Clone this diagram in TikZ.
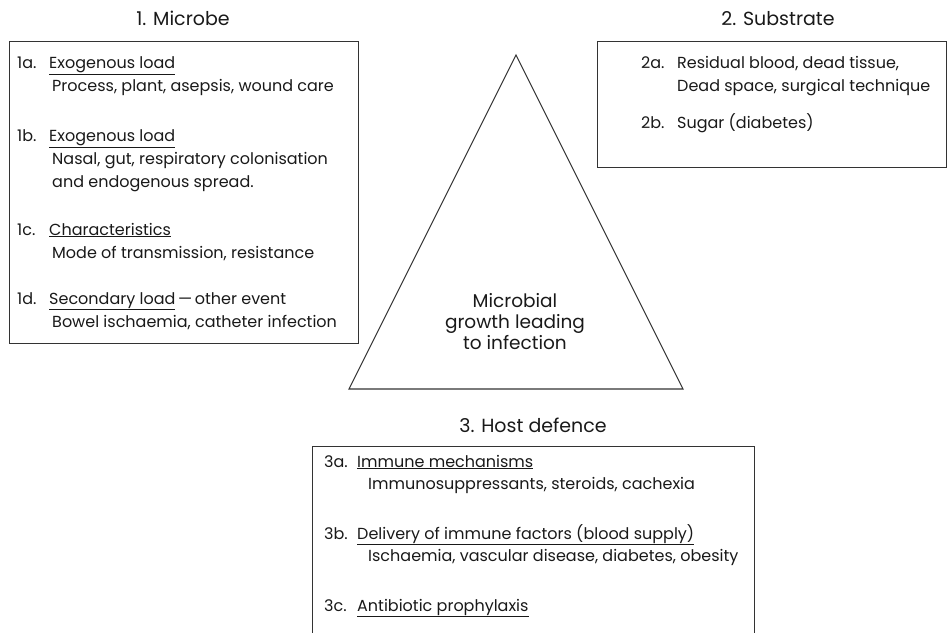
\documentclass[tikz,border=0pt]{standalone}
\usepackage{fontspec}
\setmainfont{Poppins}
\begin{document}
\begin{tikzpicture}
    [x=1pt, y=-1pt,
    every node/.style={inner sep=0pt, text=black!90,
      font=\fontsize{16}{21}\selectfont},
    title/.style={anchor=base, font=\fontsize{19}{23}\selectfont},
    item/.style={anchor=base west},
    box/.style={draw=black!80, line width=1.1pt, anchor=north west}]
    \clip (0,0) rectangle (947,632);
    % 1. Microbe
    \node[title] (microbe) at (183,25) {1. Microbe};
    \node[box, minimum width=349pt, minimum height=302pt] (microbebox) at (9,41) {};
    \node[item] (n1a) at (17,68) {1a.};
    \node[item] (m1a) at (49,68) {\underline{Exogenous load}};
    \node[item] (m1a1) at (52,91) {Process, plant, asepsis, wound care};
    \node[item] (n1b) at (17,141) {1b.};
    \node[item] (m1b) at (49,141) {\underline{Exogenous load}};
    \node[item] (m1b1) at (52,164) {Nasal, gut, respiratory colonisation};
    \node[item] (m1b2) at (52,187) {and endogenous spread.};
    \node[item] (n1c) at (17,235) {1c.};
    \node[item] (m1c) at (49,235) {\underline{Characteristics}};
    \node[item] (m1c1) at (52,258) {Mode of transmission, resistance};
    \node[item] (n1d) at (17,304) {1d.};
    \node[item] (m1d) at (49,304) {\underline{Secondary load}\,---\,other event};
    \node[item] (m1d1) at (52,327) {Bowel ischaemia, catheter infection};
    % 2. Substrate
    \node[title] (substrate) at (778,25) {2. Substrate};
    \node[box, minimum width=349pt, minimum height=126pt] (substratebox) at (597,41) {};
    \node[item] (n2a) at (641,68) {2a.};
    \node[item] (s2a) at (677,68) {Residual blood, dead tissue,};
    \node[item] (s2a1) at (677,91) {Dead space, surgical technique};
    \node[item] (n2b) at (641,128) {2b.};
    \node[item] (s2b) at (677,128) {Sugar (diabetes)};
    % triangle
    \coordinate (apex) at (516,55);
    \coordinate (right) at (683,389);
    \coordinate (left) at (349,389);
    \draw[draw=black!80, line width=1.1pt] (apex) -- (right) -- (left) -- cycle;
    \node[align=center, anchor=base, font=\fontsize{18.5}{21}\selectfont]
      (growth) at (515,349) {Microbial\\growth leading\\to infection};
    % 3. Host defence
    \node[title] (host) at (533,432) {3. Host defence};
    \node[box, minimum width=442pt, minimum height=220pt] (hostbox) at (312,446) {};
    \node[item] (n3a) at (324,467) {3a.};
    \node[item] (h3a) at (357,467) {\underline{Immune mechanisms}};
    \node[item] (h3a1) at (368,489) {Immunosuppressants, steroids, cachexia};
    \node[item] (n3b) at (324,539) {3b.};
    \node[item] (h3b) at (357,539) {\underline{Delivery of immune factors (blood supply)}};
    \node[item] (h3b1) at (368,561) {Ischaemia, vascular disease, diabetes, obesity};
    \node[item] (n3c) at (324,611) {3c.};
    \node[item] (h3c) at (357,611) {\underline{Antibiotic prophylaxis}};
\end{tikzpicture}
\end{document}
